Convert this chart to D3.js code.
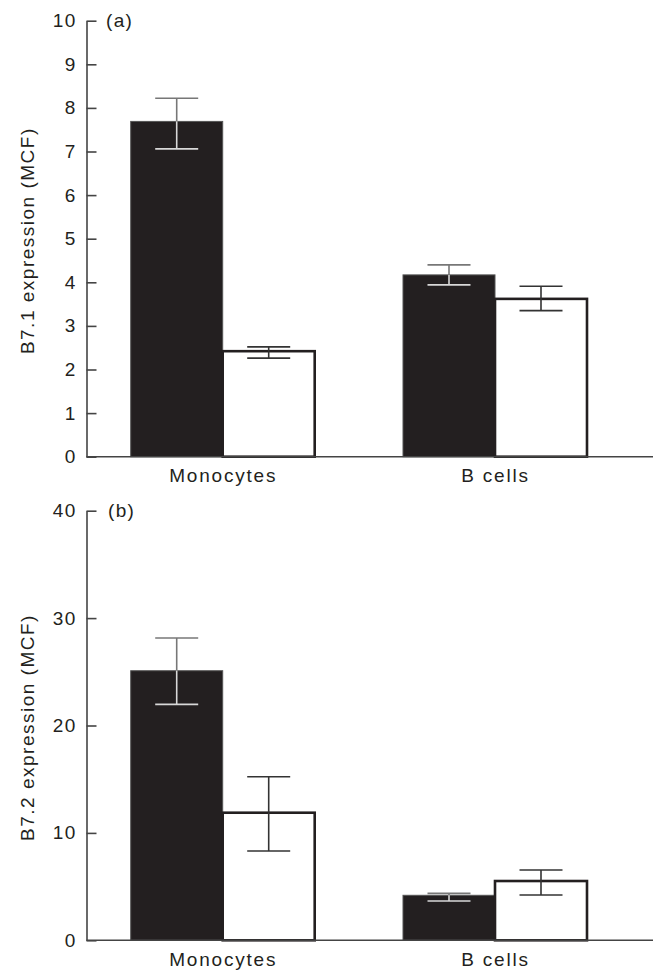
<!DOCTYPE html>
<html>
<head>
<meta charset="utf-8">
<script src="https://cdn.jsdelivr.net/npm/d3@7"></script>
<style>
  body { margin: 0; background: #fff; }
  svg { display: block; }
  text { font-family: "Liberation Sans", Arial, sans-serif; fill: #231f20; }
</style>
</head>
<body>
<div id="chart"></div>
<script>
// data
const categories = ['Monocytes', 'B cells'];
const groups = ['control', 'patient'];

// panel (a) B7.1
const b71Mean = [[7.69, 2.42], [4.17, 3.62]];
const b71Hi = [[8.22, 2.52], [4.40, 3.91]];
const b71Lo = [[7.06, 2.26], [3.94, 3.35]];
const b71Ticks = [0, 1, 2, 3, 4, 5, 6, 7, 8, 9, 10];

// panel (b) B7.2
const b72Mean = [[25.1, 11.88], [4.19, 5.52]];
const b72Hi = [[28.15, 15.23], [4.37, 6.55]];
const b72Lo = [[21.97, 8.31], [3.66, 4.22]];
const b72Ticks = [0, 10, 20, 30, 40];

let W = 653, H = 972;
let svg = d3.select('#chart').append('svg').attr('width', W).attr('height', H);

let axisX = 86.5;
let x = d3.scalePoint().domain(categories).range([222.7, 495]);
let xg = d3.scaleBand().domain(groups).range([-92, 92]);
let dark = '#231f20';
let fs = 19, ls = '1.3px';

function panel(opts) {
  let y = d3.scaleLinear().domain([0, opts.max]).range([opts.y0, opts.y1]);
  let g = svg.append('g');

  // y axis
  let yAxis = d3.axisLeft(y).tickValues(opts.ticks).tickSize(-10).tickPadding(10).tickSizeOuter(0);
  let ya = g.append('g').attr('transform', `translate(${axisX},0)`).call(yAxis);
  ya.select('.domain').attr('stroke', '#444').attr('stroke-width', 1.6);
  ya.selectAll('.tick line').attr('stroke', '#444').attr('stroke-width', 1.6);
  ya.selectAll('.tick text').attr('font-size', fs).attr('fill', dark)
    .style('font-family', '"Liberation Sans", Arial, sans-serif')
    .style('letter-spacing', ls);

  // bars
  let rows = [];
  categories.forEach((c, i) => groups.forEach((s, j) => rows.push({
    c: c, s: s, v: opts.mean[i][j], hi: opts.hi[i][j], lo: opts.lo[i][j]
  })));

  g.selectAll('rect.bar').data(rows).enter().append('rect')
    .attr('class', 'bar')
    .attr('x', d => x(d.c) + xg(d.s))
    .attr('y', d => y(d.v))
    .attr('width', xg.bandwidth())
    .attr('height', d => y(0) - y(d.v))
    .attr('fill', d => d.s === 'control' ? dark : '#fff')
    .attr('stroke', d => d.s === 'control' ? '#555' : dark)
    .attr('stroke-width', d => d.s === 'control' ? 1 : 2.6);

  // error bars
  let cap = 21.5;
  rows.forEach(d => {
    let cx = x(d.c) + xg(d.s) + xg.bandwidth() / 2;
    let col = d.s === 'control' ? '#777' : '#333';
    let inner = d.s === 'control' ? '#d8d8d8' : '#333';
    // part above the bar top
    g.append('line').attr('x1', cx).attr('x2', cx)
      .attr('y1', y(d.hi)).attr('y2', y(d.v)).attr('stroke', col).attr('stroke-width', 1.6);
    g.append('line').attr('x1', cx - cap).attr('x2', cx + cap)
      .attr('y1', y(d.hi)).attr('y2', y(d.hi)).attr('stroke', col).attr('stroke-width', 1.6);
    // part inside the bar
    g.append('line').attr('x1', cx).attr('x2', cx)
      .attr('y1', y(d.v)).attr('y2', y(d.lo)).attr('stroke', inner).attr('stroke-width', 1.6);
    g.append('line').attr('x1', cx - cap).attr('x2', cx + cap)
      .attr('y1', y(d.lo)).attr('y2', y(d.lo)).attr('stroke', inner).attr('stroke-width', 1.6);
  });

  // baseline
  g.append('line').attr('x1', axisX).attr('x2', W).attr('y1', y(0)).attr('y2', y(0))
    .attr('stroke', '#444').attr('stroke-width', 1.6);

  // category labels
  let xa = g.append('g').attr('transform', `translate(0,${y(0)})`)
    .call(d3.axisBottom(x).tickSize(0).tickPadding(12));
  xa.select('.domain').remove();
  xa.selectAll('.tick text').attr('font-size', fs).attr('fill', dark)
    .style('font-family', '"Liberation Sans", Arial, sans-serif')
    .style('letter-spacing', '1.8px');

  // y label
  g.append('text')
    .attr('transform', `translate(34,${(opts.y0 + opts.y1) / 2 + 2}) rotate(-90)`)
    .attr('text-anchor', 'middle').attr('font-size', fs)
    .style('letter-spacing', '1.5px')
    .text(opts.label);

  // panel letter
  g.append('text').attr('x', opts.letterX).attr('y', opts.y1 + 6)
    .attr('font-size', fs).style('letter-spacing', ls).text(opts.letter);
}

panel({
  max: 10, ticks: b71Ticks, mean: b71Mean, hi: b71Hi, lo: b71Lo,
  y0: 456.7, y1: 20.7, label: 'B7.1 expression (MCF)', letter: '(a)', letterX: 106
});

panel({
  max: 40, ticks: b72Ticks, mean: b72Mean, hi: b72Hi, lo: b72Lo,
  y0: 940.3, y1: 510.7, label: 'B7.2 expression (MCF)', letter: '(b)', letterX: 108
});
</script>
</body>
</html>
